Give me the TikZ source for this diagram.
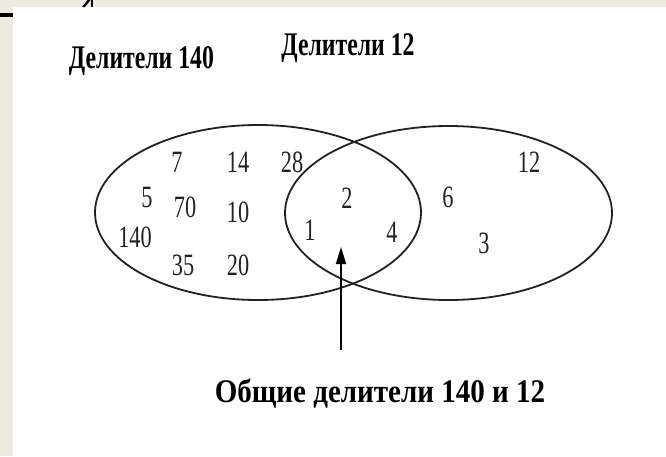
\documentclass[tikz,border=0pt]{standalone}
\usepackage{fontspec}
\setmainfont{Liberation Serif}
\usetikzlibrary{arrows.meta}
\definecolor{beige}{HTML}{EDEADF}
\definecolor{ink}{HTML}{222222}
\newcommand\cnd[2][0.72]{\scalebox{#1}[1]{#2}}
\tikzset{
  num/.style={inner sep=0pt, text=ink, font=\fontsize{31}{31}\selectfont},
  head/.style={inner sep=0pt, anchor=base, font=\bfseries\fontsize{33}{33}\selectfont},
  setline/.style={draw=ink, line width=1.8pt},
  pointer/.style={draw=black, line width=1.8pt, -{Triangle[length=17pt,width=10pt]}}
}
\begin{document}
\begin{tikzpicture}[x=1pt,y=-1pt]
\useasboundingbox (0,0) rectangle (666,456);
\fill[beige] (0,0) rectangle (666,456);
\fill[white] (13,7) rectangle (666,456);
\fill[black] (0,12.7) rectangle (13,16.5);
\fill[black] (82,7) -- (87.5,0) -- (90.5,0) -- (85,7) -- cycle;
\fill[black] (90.5,0) rectangle (93,7);

% headings
\node[head] (h140) at (141.5,68) {\cnd{Делители 140}};
\node[head] (h12) at (348,55) {\cnd{Делители 12}};
\node[head] (hcom) at (380,402) {\cnd[0.88]{Общие делители 140 и 12}};

% sets
\draw[setline] (258,212.5) ellipse [x radius=163, y radius=87.5];
\draw[setline] (448.5,213) ellipse [x radius=163.5, y radius=87];

% numbers
\node[num] (n7) at (177,162) {\cnd{7}};
\node[num] (n14) at (238,162) {\cnd{14}};
\node[num] (n28) at (292,162) {\cnd{28}};
\node[num] (n5) at (147,197) {\cnd{5}};
\node[num] (n70) at (185,207) {\cnd{70}};
\node[num] (n10) at (238,212) {\cnd{10}};
\node[num] (n140) at (135,237) {\cnd{140}};
\node[num] (n35) at (183,265) {\cnd{35}};
\node[num] (n20) at (238,265) {\cnd{20}};
\node[num] (n2) at (347,198) {\cnd{2}};
\node[num] (n1) at (310,230) {\cnd{1}};
\node[num] (n4) at (392,232) {\cnd{4}};
\node[num] (n6) at (448,197) {\cnd{6}};
\node[num] (n3) at (484,243) {\cnd{3}};
\node[num] (n12) at (529,162) {\cnd{12}};

% pointer
\coordinate (abot) at (341,350);
\coordinate (atip) at (341,247);
\draw[pointer] (abot) -- (atip);
\end{tikzpicture}
\end{document}
